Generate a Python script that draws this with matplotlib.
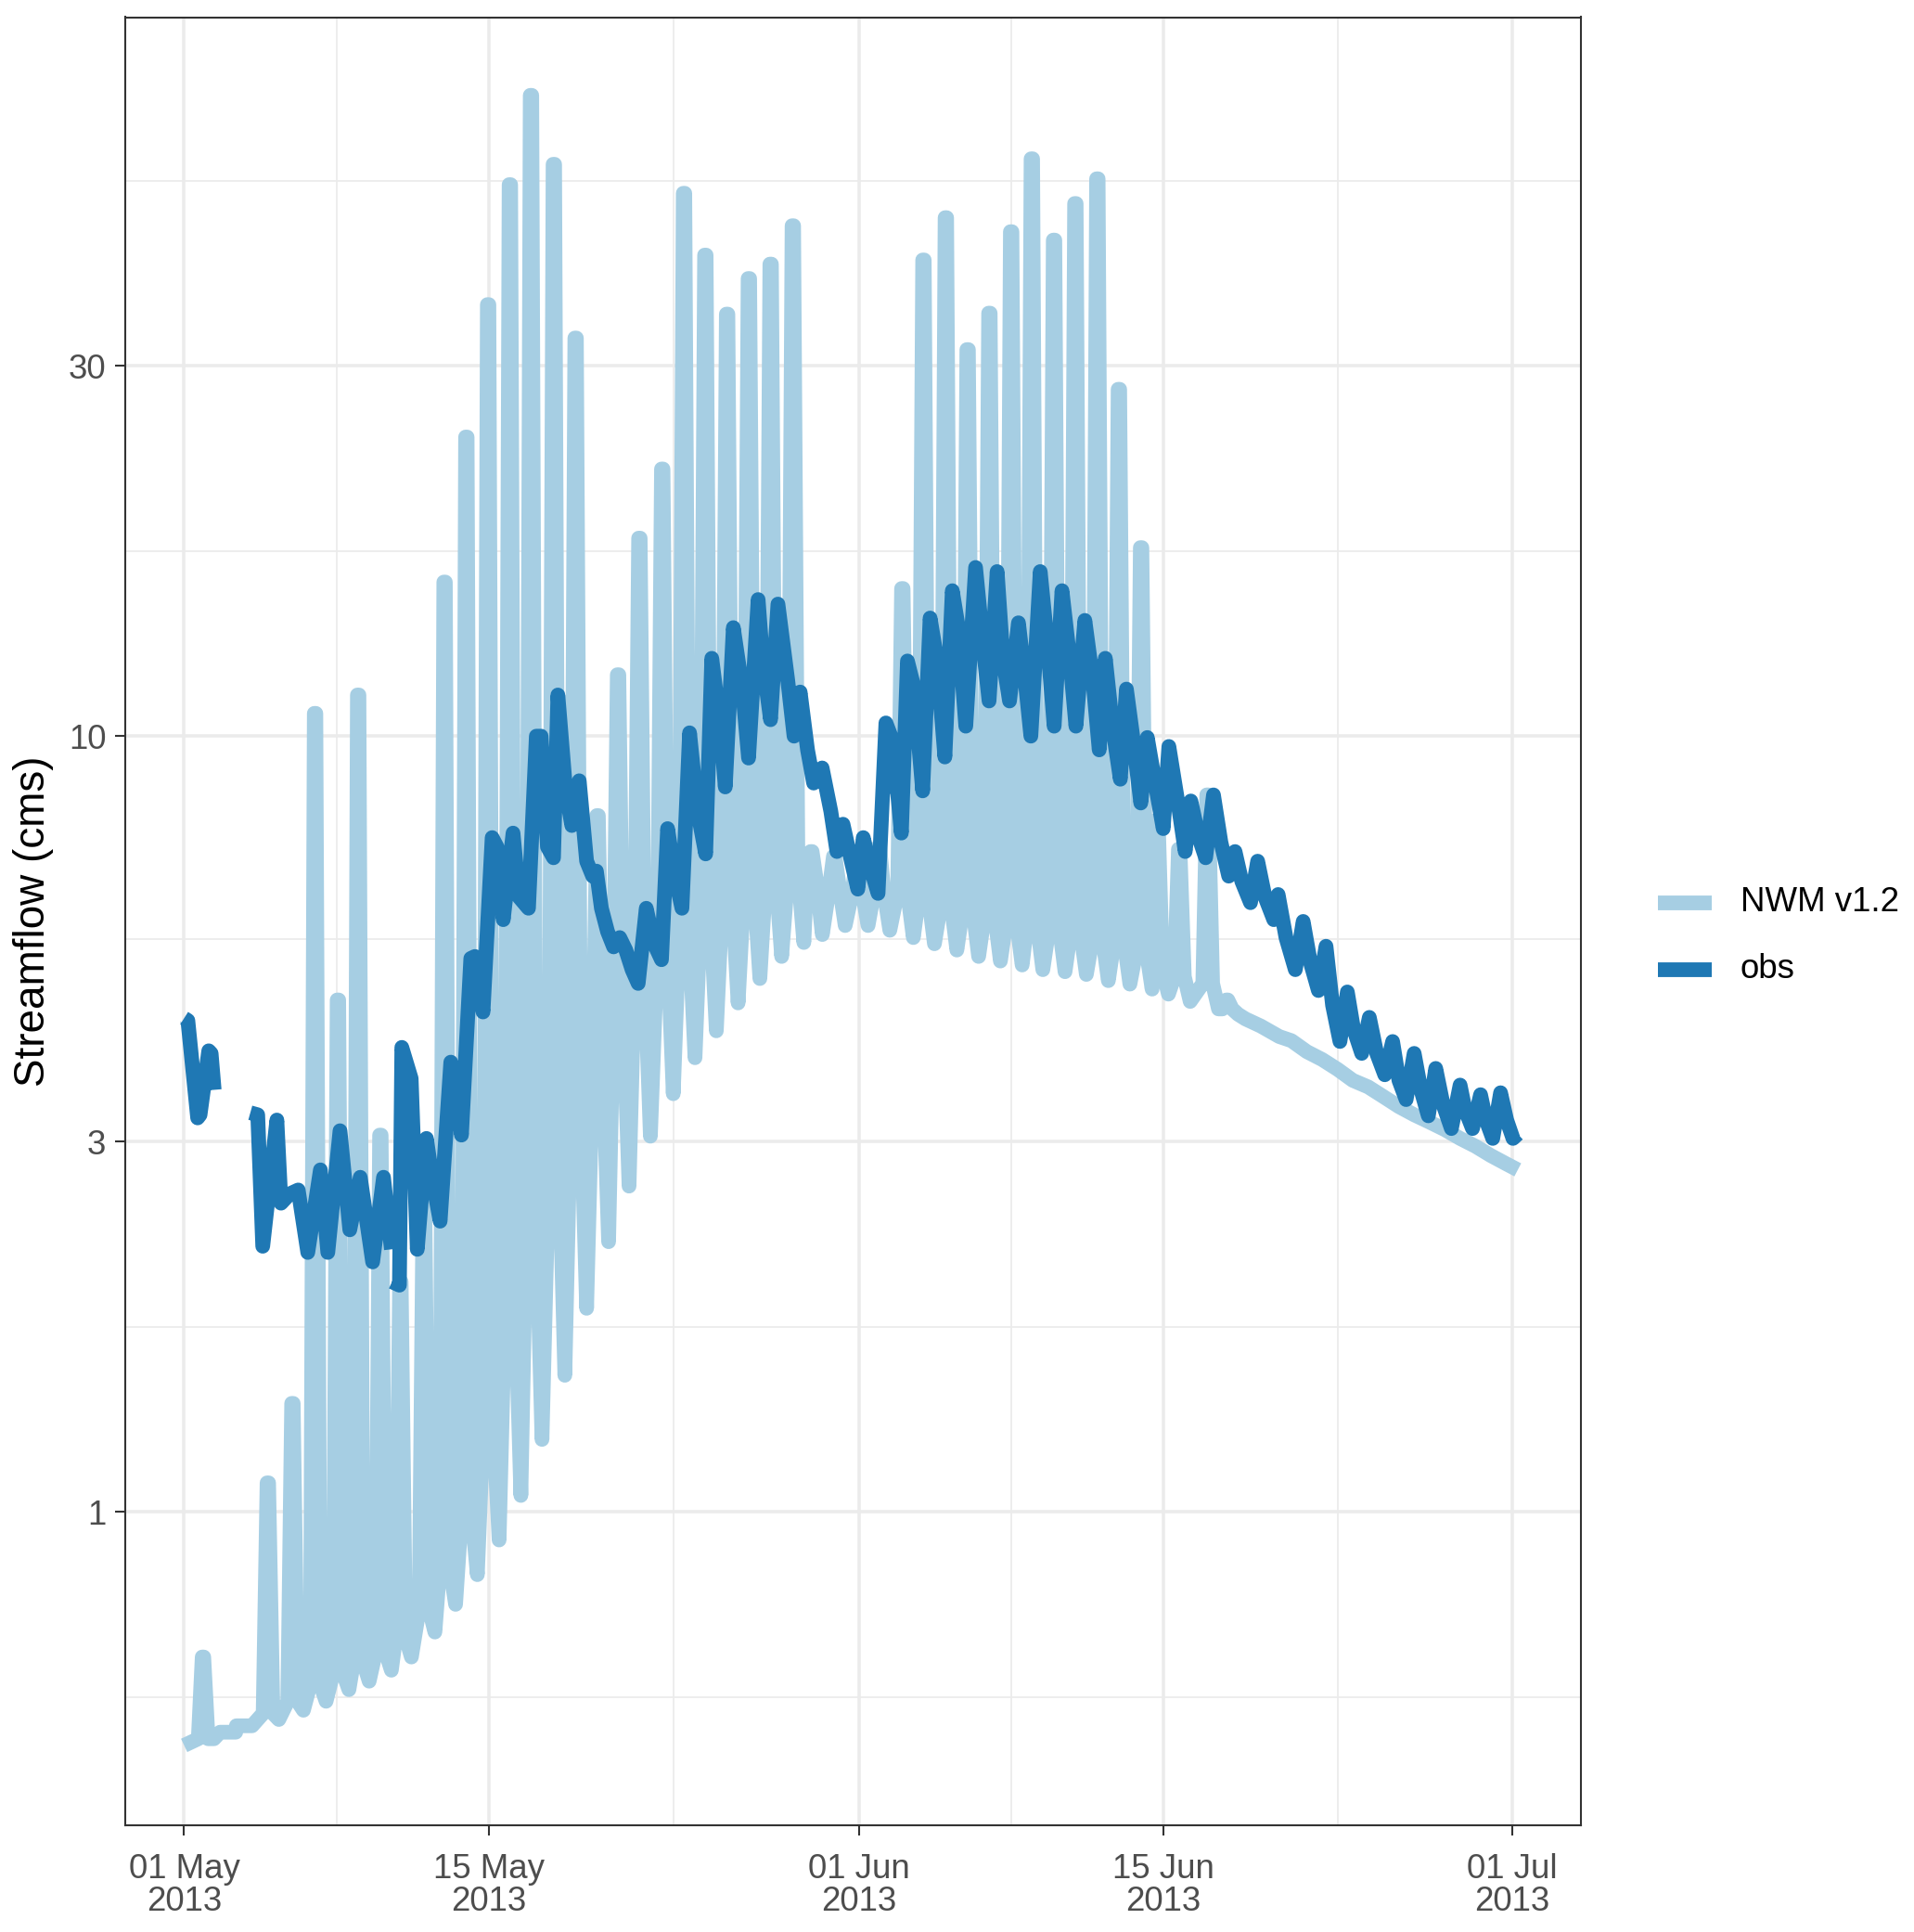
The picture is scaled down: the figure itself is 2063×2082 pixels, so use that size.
import numpy as np
import matplotlib
matplotlib.use("Agg")
import matplotlib.pyplot as plt
import matplotlib.dates as mdates
from matplotlib.lines import Line2D
from datetime import datetime

plt.rcParams['font.family'] = ['Liberation Sans', 'DejaVu Sans']

# time axis: days since 2013-05-01 00:00
start = datetime(2013, 5, 1)

# NWM v1.2 daily melt spikes: time of peak (days), peak value, level the
# spike starts from / drops back to, and the trough reached after it (cms)
nwm_peak_day = [0.85, 1.85, 2.60, 3.83, 4.96, 6.00, 7.05, 7.98, 9.00, 9.92,
                11.00, 11.95, 12.95, 13.95, 14.95, 15.92, 16.97, 17.97, 18.98, 19.92,
                20.90, 21.95, 22.95, 23.93, 24.93, 25.93, 26.93, 27.95, 28.80, 29.85,
                30.90, 31.90, 32.98, 33.95, 34.98, 35.98, 36.98, 37.98, 38.93, 39.95,
                40.93, 41.94, 42.93, 43.95, 44.70, 45.70, 47.00, 47.90]
nwm_peak = [0.65, 0.52, 0.53, 1.09, 1.38, 10.7, 4.57, 11.3, 3.06, 1.98,
            2.60, 15.8, 24.3, 36.0, 51.4, 67.0, 54.6, 32.6, 7.9, 12.0,
            18.0, 22.1, 50.1, 41.7, 35.0, 38.9, 40.6, 45.5, 7.1, 7.0,
            6.9, 7.2, 15.5, 41.1, 46.6, 31.5, 35.1, 44.7, 55.5, 43.6,
            48.6, 52.3, 28.0, 17.5, 7.8, 7.15, 8.4, 4.57]
nwm_shoulder = [0.51, 0.52, 0.53, 0.55, 0.57, 0.60, 0.62, 0.64, 0.66, 0.69,
                0.75, 0.85, 1.00, 1.30, 1.90, 2.40, 2.90, 3.40, 3.80, 4.40,
                5.00, 5.40, 5.60, 5.90, 6.20, 6.40, 6.60, 6.70, 6.50, 6.40,
                6.30, 6.30, 6.30, 6.20, 6.10, 6.00, 5.90, 5.80, 5.75, 5.70,
                5.60, 5.50, 5.45, 5.30, 5.00, 4.90, 4.80, 4.45]
nwm_trough = [0.51, 0.52, 0.53, 0.54, 0.555, 0.57, 0.59, 0.605, 0.625, 0.65,
              0.70, 0.76, 0.83, 0.92, 1.05, 1.24, 1.50, 1.83, 2.23, 2.63,
              3.05, 3.46, 3.85, 4.17, 4.53, 4.87, 5.20, 5.42, 5.55, 5.70,
              5.70, 5.62, 5.50, 5.40, 5.30, 5.20, 5.13, 5.07, 5.00, 4.97,
              4.93, 4.84, 4.79, 4.72, 4.65, 4.55, 4.45, 4.38]
# smooth recession at the end of June
nwm_tail_day = [48.76, 49.46, 50.31, 50.87, 51.58, 52.28, 52.99, 53.69, 54.40, 55.10,
                55.81, 56.51, 57.22, 57.92, 58.62, 59.33, 60.03, 60.74, 61.27]
nwm_tail = [4.32, 4.23, 4.10, 4.05, 3.92, 3.83, 3.72, 3.60, 3.53, 3.43,
            3.33, 3.25, 3.18, 3.11, 3.03, 2.96, 2.88, 2.81, 2.76]

# observed streamflow (NaN = missing data)
obs_day = [0.00, 0.17, 0.62, 0.73, 1.13, 1.24, 1.38, 2.20,
           3.04, 3.38, 3.61, 4.26, 4.45, 4.85, 5.24, 5.68, 6.26, 6.60,
           7.16, 7.61, 8.09, 8.66, 9.16, 9.52, 9.53, 9.55, 9.89, 10.00,
           10.43, 10.71, 11.13, 11.39, 11.76, 12.25, 12.48, 12.74, 13.17, 13.36,
           13.73, 14.15, 14.37, 14.66, 15.11, 15.39, 15.82, 16.18, 16.40, 16.69,
           16.97, 17.17, 17.53, 17.81, 18.15, 18.49, 18.77, 18.94, 19.17, 19.45,
           19.73, 20.01, 20.29, 20.58, 20.86, 21.23, 21.59, 21.93, 22.21, 22.55,
           22.87, 23.22, 23.59, 23.96, 24.24, 24.63, 24.86, 25.23, 25.65, 25.93,
           26.37, 26.58, 26.94, 27.28, 27.73, 28.02, 28.30, 28.64, 28.92, 29.31,
           29.71, 29.99, 30.27, 30.50, 30.95, 31.20, 31.51, 31.88, 32.24, 32.47,
           32.58, 32.75, 32.95, 33.23, 33.52, 33.93, 34.27, 34.58, 34.95, 35.29,
           35.57, 35.91, 36.36, 36.78, 36.98, 37.35, 37.63, 37.92, 38.33, 38.61,
           38.90, 39.33, 39.68, 39.97, 40.33, 40.70, 40.97, 41.38, 41.75, 42.04,
           42.32, 42.67, 43.01, 43.29, 43.60, 43.95, 44.25, 44.64, 44.98, 45.24,
           45.66, 45.99, 46.25, 46.62, 46.93, 47.29, 47.63, 47.99, 48.28, 48.59,
           48.99, 49.32, 49.66, 50.06, 50.26, 50.62, 51.05, 51.41, 51.75, 52.11,
           52.46, 52.76, 53.10, 53.44, 53.72, 54.10, 54.45, 54.79, 55.16, 55.52,
           55.81, 56.14, 56.51, 56.82, 57.16, 57.50, 57.84, 58.22, 58.62, 58.85,
           59.19, 59.56, 59.81, 60.12, 60.48, 60.76, 61.05, 61.27]
obs_cms = [4.33, 4.30, 3.22, 3.25, 3.93, 3.90, 3.50, np.nan,
           3.27, 3.25, 2.20, 3.20, 2.50, 2.57, 2.60, 2.16, 2.76, 2.16,
           3.10, 2.31, 2.70, 2.10, 2.70, 2.18, np.nan, 1.98, 1.96, 3.97,
           3.62, 2.18, 3.03, 2.70, 2.37, 3.80, 3.55, 3.06, 5.17, 5.20,
           4.41, 7.40, 7.20, 5.80, 7.50, 6.20, 6.00, 10.0, 10.0, 7.20,
           6.97, 11.3, 8.50, 7.67, 8.76, 6.90, 6.60, 6.70, 6.00, 5.60,
           5.35, 5.50, 5.30, 5.00, 4.80, 6.00, 5.40, 5.15, 7.60, 6.60,
           6.00, 10.1, 8.00, 7.05, 12.6, 10.3, 8.60, 13.8, 11.5, 9.37,
           15.0, 12.5, 10.5, 14.8, 11.8, 10.0, 11.4, 9.60, 8.70, 9.10,
           8.00, 7.10, 7.70, 7.20, 6.35, 7.40, 6.80, 6.27, 10.4, 10.0,
           8.60, 8.60, 7.50, 12.5, 11.6, 8.50, 14.2, 12.6, 9.40, 15.4,
           13.8, 10.3, 16.5, 12.5, 11.1, 16.3, 12.5, 11.1, 14.0, 12.0,
           10.0, 16.3, 13.0, 10.3, 15.4, 12.5, 10.3, 14.1, 11.8, 9.60,
           12.6, 10.2, 8.80, 11.5, 9.90, 8.20, 9.96, 8.60, 7.60, 9.70,
           8.20, 7.10, 8.25, 7.40, 6.97, 8.40, 7.30, 6.60, 7.10, 6.50,
           6.10, 6.90, 6.20, 5.80, 6.25, 5.50, 5.00, 5.77, 5.10, 4.70,
           5.36, 4.50, 4.04, 4.68, 4.20, 3.90, 4.34, 3.90, 3.66, 4.04,
           3.60, 3.40, 3.90, 3.50, 3.24, 3.73, 3.35, 3.12, 3.55, 3.30,
           3.12, 3.45, 3.20, 3.03, 3.47, 3.20, 3.03, 3.07]

col_nwm = '#A6CEE3'
col_obs = '#1F78B4'
lw = 3.8

# build the NWM polyline: rise, short top, drop back to the shoulder,
# then a short dip to the trough before the next day's rise
nwm_t = [0.0]
nwm_v = [0.50]
for tp, pk, sh, tr in zip(nwm_peak_day, nwm_peak, nwm_shoulder, nwm_trough):
    nwm_t += [tp - 0.20, tp - 0.02, tp + 0.05, tp + 0.25, tp + 0.52]
    nwm_v += [sh, pk, pk, sh, tr]
nwm_t += nwm_tail_day
nwm_v += nwm_tail

base = mdates.date2num(start)
nwm_x = base + np.array(nwm_t)
obs_x = base + np.array(obs_day)

fig = plt.figure(figsize=(2063 / 300, 2082 / 300), dpi=300)
ax = fig.add_axes([135 / 2063, 1 - 1966.5 / 2082, 1568.5 / 2063, 1948 / 2082])

ax.plot(nwm_x, nwm_v, color=col_nwm, lw=lw, solid_joinstyle='round',
        solid_capstyle='butt', zorder=3)
ax.plot(obs_x, obs_cms, color=col_obs, lw=lw, solid_joinstyle='round',
        solid_capstyle='butt', zorder=4)

ax.set_yscale('log')
ax.set_ylim(0.395, 84.5)
ax.set_xlim(base - 2.706, base + 64.15)

# ticks and grid (theme_bw look)
major_dates = [datetime(2013, 5, 1), datetime(2013, 5, 15), datetime(2013, 6, 1),
               datetime(2013, 6, 15), datetime(2013, 7, 1)]
major_x = mdates.date2num(major_dates)
ax.set_xticks(major_x)
ax.set_xticklabels([d.strftime('%d %b\n%Y') for d in major_dates], linespacing=1.0)
ax.set_xticks((major_x[:-1] + major_x[1:]) / 2, minor=True)

ax.set_yticks([1, 3, 10, 30])
ax.set_yticklabels(['1', '3', '10', '30'])
ax.set_yticks([0.577, 1.732, 5.477, 17.32, 51.96], minor=True)
ax.yaxis.set_minor_formatter(plt.NullFormatter())

ax.tick_params(which='major', length=11.5 * 72 / 300, width=0.5, color='#333333',
               labelsize=8.8, labelcolor='#4D4D4D', pad=2.2)
ax.tick_params(axis='x', which='major', pad=4.5)
ax.tick_params(which='minor', length=0)
ax.grid(which='major', color='#EBEBEB', lw=0.85)
ax.grid(which='minor', color='#EBEBEB', lw=0.43)
ax.set_axisbelow(True)
for s in ax.spines.values():
    s.set_color('#333333')
    s.set_linewidth(0.5)
    s.set_zorder(5)

ax.set_ylabel('Streamflow (cms)', fontsize=11, color='black', va='center')
ax.yaxis.set_label_coords(-0.063, 0.5)

# legend drawn on the right like ggplot's
for y, c, lab in [(0.5328, col_nwm, 'NWM v1.2'), (0.4981, col_obs, 'obs')]:
    fig.add_artist(Line2D([0.8662, 0.8943], [y, y], transform=fig.transFigure,
                          color=c, lw=lw, solid_capstyle='butt'))
    fig.text(0.9092, y, lab, fontsize=8.8, color='black', va='center', ha='left')

fig.savefig('out.png', dpi=300)
